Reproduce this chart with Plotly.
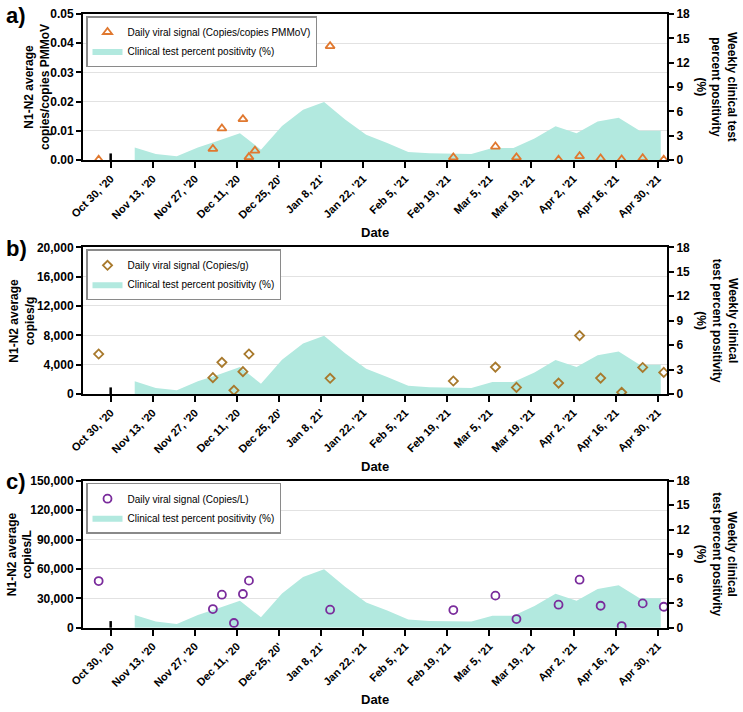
import plotly.graph_objects as go

# ---------------- data ----------------
sample_dates = ["2020-10-26", "2020-12-03", "2020-12-06", "2020-12-10", "2020-12-13",
                "2020-12-15", "2020-12-17", "2021-01-11", "2021-02-21", "2021-03-07",
                "2021-03-14", "2021-03-28", "2021-04-04", "2021-04-11", "2021-04-18",
                "2021-04-25", "2021-05-02"]
signal_pmmov = [0.0001, 0.0038, 0.0108, 0.034, 0.014, 0.001, 0.0032, 0.039, 0.0009, 0.0046,
                0.0009, 0.0001, 0.0013, 0.0005, 0.0002, 0.0006, 0.0001]
signal_g = [5450, 2230, 4320, 500, 3050, 5450, 14140, 2140, 1770, 3670,
            900, 1490, 7960, 2170, 230, 3620, 2940]
signal_l = [47600, 19000, 33700, 4800, 34400, 48000, 123100, 18400, 18000, 32700,
            8800, 23500, 49000, 22400, 1700, 24800, 21400]

week_dates = ["2020-11-07", "2020-11-14", "2020-11-21", "2020-11-28", "2020-12-05",
              "2020-12-12", "2020-12-19", "2020-12-26", "2021-01-02", "2021-01-09",
              "2021-01-16", "2021-01-23", "2021-01-30", "2021-02-06", "2021-02-13",
              "2021-02-20", "2021-02-27", "2021-03-06", "2021-03-13", "2021-03-20",
              "2021-03-27", "2021-04-03", "2021-04-10", "2021-04-17", "2021-04-24",
              "2021-05-01"]
positivity = [1.55, 0.75, 0.45, 1.55, 2.4, 3.3, 1.27, 4.2, 6.2, 7.15,
              5.0, 3.1, 2.1, 1.0, 0.82, 0.75, 0.75, 1.47, 1.47, 2.65,
              4.16, 3.3, 4.75, 5.2, 3.6, 3.6]

tick_dates = ["2020-10-30", "2020-11-13", "2020-11-27", "2020-12-11", "2020-12-25",
              "2021-01-08", "2021-01-22", "2021-02-05", "2021-02-19", "2021-03-05",
              "2021-03-19", "2021-04-02", "2021-04-16", "2021-04-30"]
tick_labels = ["Oct 30, '20", "Nov 13, '20", "Nov 27, '20", "Dec 11, '20", "Dec 25, 20'",
               "Jan 8, 21'", "Jan 22, '21", "Feb 5, '21", "Feb 19, '21", "Mar 5, '21",
               "Mar 19, '21", "Apr 2, '21", "Apr 16, '21", "Apr 30, '21"]

panels = [
    dict(label="a)", values=signal_pmmov, name="Daily viral signal (Copies/copies PMMoV)",
         symbol="triangle-up-open", size=8, color="#e0782f", yrange=[0, 0.05], dtick=0.01,
         tickformat=".2f", ytitle="N1-N2 average<br>copies/copies PMMoV",
         rtitle="Weekly clinical test<br>percent positivity<br>(%)", top=14, bottom=160,
         ytitle_x=37),
    dict(label="b)", values=signal_g, name="Daily viral signal (Copies/g)",
         symbol="diamond-open", size=7, color="#a8792c", yrange=[0, 20000], dtick=4000,
         tickformat=",d", ytitle="N1-N2 average<br>copies/g",
         rtitle="Weekly clinical<br>test percent positivity<br>(%)", top=247.3, bottom=394,
         ytitle_x=22),
    dict(label="c)", values=signal_l, name="Daily viral signal (Copies/L)",
         symbol="circle-open", size=8, color="#7a2c9c", yrange=[0, 150000], dtick=30000,
         tickformat=",d", ytitle="N1-N2 average<br>copies/L",
         rtitle="Weekly clinical<br>test percent positivity<br>(%)", top=480.7, bottom=627.7,
         ytitle_x=20),
]

W, H = 743, 712
X0, X1 = 83, 667
FONT = "Liberation Sans, Arial, sans-serif"
AREA = "rgb(178,233,223)"

fig = go.Figure()
annotations = []
shapes = []

for i, p in enumerate(panels, start=1):
    xa = "x" if i == 1 else f"x{i}"
    base_n = 2 * i - 1
    over_n = 2 * i
    ya_base = "y" if base_n == 1 else f"y{base_n}"
    ya_over = f"y{over_n}"
    leg = "legend" if i == 1 else f"legend{i}"

    fig.add_trace(go.Scatter(
        x=week_dates, y=positivity, mode="lines", fill="tozeroy",
        line=dict(width=0, color=AREA), fillcolor=AREA,
        name="Clinical test percent positivity (%)", xaxis=xa, yaxis=ya_base,
        legend=leg, legendrank=2, hoverinfo="skip"))
    fig.add_trace(go.Scatter(
        x=sample_dates, y=p["values"], mode="markers",
        marker=dict(symbol=p["symbol"], size=p["size"], color=p["color"],
                    line=dict(width=1.8, color=p["color"])),
        name=p["name"], xaxis=xa, yaxis=ya_over, legend=leg, legendrank=1))

    d0 = (H - p["bottom"]) / H
    d1 = (H - p["top"]) / H
    xkey = "xaxis" if i == 1 else f"xaxis{i}"
    ybkey = "yaxis" if base_n == 1 else f"yaxis{base_n}"
    yokey = f"yaxis{over_n}"

    fig.layout[xkey] = dict(
        domain=[X0 / W, X1 / W], anchor=ya_base,
        range=["2020-10-20 19:00", "2021-05-03 02:00"],
        tickmode="array", tickvals=tick_dates, ticktext=tick_labels,
        tickangle=-45, ticks="outside", ticklen=6, tickwidth=2, tickcolor="black",
        showline=True, linewidth=2, linecolor="black", mirror=True,
        showgrid=False, zeroline=False, automargin=False,
        tickfont=dict(family=FONT, size=11, color="black", weight="bold"))
    fig.layout[ybkey] = dict(
        domain=[d0, d1], anchor=xa, side="right", range=[0, 18], dtick=3,
        ticks="outside", ticklen=5, tickwidth=2, tickcolor="black",
        showline=True, linewidth=2, linecolor="black", showgrid=False, zeroline=False,
        automargin=False,
        tickfont=dict(family=FONT, size=12, color="black", weight="bold"))
    fig.layout[yokey] = dict(
        overlaying=ya_base, anchor=xa, side="left", range=p["yrange"], dtick=p["dtick"],
        tickformat=p["tickformat"],
        ticks="outside", ticklen=5, tickwidth=2, tickcolor="black",
        showline=True, linewidth=2, linecolor="black", automargin=False,
        showgrid=True, gridcolor="#e2e2e2", gridwidth=1, zeroline=False,
        tickfont=dict(family=FONT, size=12, color="black", weight="bold"))

    fig.layout[leg] = dict(
        x=86 / W, y=(H - p["top"] - 2) / H, xanchor="left", yanchor="top",
        bgcolor="white", bordercolor="#8a8a8a", borderwidth=1.5,
        font=dict(family=FONT, size=10, color="black"),
        tracegroupgap=0, itemwidth=30)

    # axis break mark at first tick
    shapes.append(dict(type="line", xref=xa, yref=f"{ya_base} domain",
                       x0=tick_dates[0], x1=tick_dates[0], y0=0, y1=0.045,
                       line=dict(color="black", width=2.5)))

    annotations.append(dict(text=f"<b>{p['label']}</b>", x=4 / W, y=(H - p["top"] - 1) / H,
                            xref="paper", yref="paper", xanchor="left", yanchor="middle",
                            showarrow=False, font=dict(family=FONT, size=22, color="black")))
    annotations.append(dict(text=f"<b>{p['ytitle']}</b>", x=p["ytitle_x"] / W,
                            y=(H - (p["top"] + p["bottom"]) / 2) / H,
                            xref="paper", yref="paper", xanchor="center", yanchor="middle",
                            textangle=-90, showarrow=False,
                            font=dict(family=FONT, size=12, color="black")))
    annotations.append(dict(text=f"<b>{p['rtitle']}</b>", x=717 / W,
                            y=(H - (p["top"] + p["bottom"]) / 2) / H,
                            xref="paper", yref="paper", xanchor="center", yanchor="middle",
                            textangle=90, showarrow=False,
                            font=dict(family=FONT, size=12, color="black")))
    annotations.append(dict(text="<b>Date</b>", x=375 / W, y=(H - (p["bottom"] + 72)) / H,
                            xref="paper", yref="paper", xanchor="center", yanchor="middle",
                            showarrow=False, font=dict(family=FONT, size=13, color="black")))

fig.update_layout(
    width=W, height=H, margin=dict(l=0, r=0, t=0, b=0, pad=0, autoexpand=False),
    paper_bgcolor="white", plot_bgcolor="white",
    showlegend=True, annotations=annotations, shapes=shapes,
    font=dict(family=FONT, color="black"))

fig.write_html("out.html", config={"displayModeBar": False},
               post_script="document.body.style.margin='0px';document.body.style.overflow='hidden';")
